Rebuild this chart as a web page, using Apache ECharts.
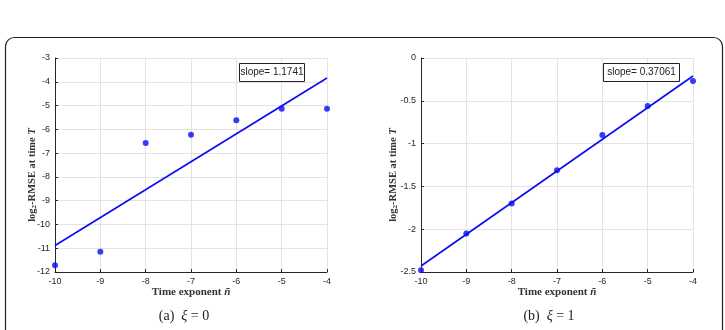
<!DOCTYPE html>
<html>
<head>
<meta charset="utf-8">
<script src="https://cdn.jsdelivr.net/npm/echarts@6/dist/echarts.min.js"></script>
<style>html,body{margin:0;padding:0;background:#fff;}#c{width:725px;height:330px;}</style>
</head>
<body>
<div id="c"></div>
<script>
// ---- data ----
const xExp = [-10, -9, -8, -7, -6, -5, -4];
const rmseA = [-11.72, -11.15, -6.58, -6.23, -5.62, -5.13, -5.13];   // xi = 0
const rmseB = [-2.48, -2.05, -1.70, -1.31, -0.90, -0.56, -0.27];     // xi = 1
const fitX = [-10, -4];
const fitA = [-10.885, -3.84];
const fitB = [-2.43, -0.21];
const slopeA = "1.1741";
const slopeB = "0.37061";
const xTicks = [-10, -9, -8, -7, -6, -5, -4];
const captionA = ["(a)  ", "ξ", " = 0"];
const captionB = ["(b)  ", "ξ", " = 1"];

const blue = '#0a0af5';
const axisCol = '#262626';
const gridCol = '#e3e3e3';

function pairs(xs, ys) { return xs.map((x, i) => [x, ys[i]]); }

function xAxisCfg(gi) {
  return {
    type: 'value', gridIndex: gi, min: -10, max: -4, interval: 1,
    axisLine: { show: true, onZero: false, lineStyle: { color: axisCol, width: 1 } },
    axisTick: { show: true, inside: true, length: 3, lineStyle: { color: axisCol } },
    axisLabel: { color: axisCol, fontFamily: 'Liberation Sans', fontSize: 9, margin: 5 },
    splitLine: { show: true, lineStyle: { color: gridCol, width: 1 } },
    name: '{t|Time exponent }{i|ñ}', nameLocation: 'middle', nameGap: 15, nameMoveOverlap: false,
    nameTextStyle: { rich: {
      t: { fontFamily: 'Liberation Serif', fontSize: 11, fontWeight: 'bold', color: '#333' },
      i: { fontFamily: 'Liberation Serif', fontSize: 11, fontWeight: 'bold', fontStyle: 'italic', color: '#333' } } }
  };
}
function yAxisCfg(gi, mn, mx, iv, gap) {
  return {
    type: 'value', gridIndex: gi, min: mn, max: mx, interval: iv,
    axisLine: { show: true, onZero: false, lineStyle: { color: axisCol, width: 1 } },
    axisTick: { show: true, inside: true, length: 3, lineStyle: { color: axisCol } },
    axisLabel: { color: axisCol, fontFamily: 'Liberation Sans', fontSize: 9, margin: 5 },
    splitLine: { show: true, lineStyle: { color: gridCol, width: 1 } },
    name: '{t|log}{s|2}{t|-RMSE at time }{i|T}', nameLocation: 'middle', nameGap: gap, nameRotate: 90,
    nameMoveOverlap: false,
    nameTextStyle: { padding: [0, 20, 0, 0], rich: {
      t: { fontFamily: 'Liberation Serif', fontSize: 10.5, fontWeight: 'bold', color: '#333' },
      s: { fontFamily: 'Liberation Serif', fontSize: 7, fontWeight: 'bold', color: '#333', verticalAlign: 'bottom', padding: [4, 0, 0, 0] },
      i: { fontFamily: 'Liberation Serif', fontSize: 10.5, fontWeight: 'bold', fontStyle: 'italic', color: '#333' } } }
  };
}
function caption(parts, cx) {
  return { type: 'text', x: cx, y: 316, z: 11,
    style: { text: '{r|' + parts[0] + '}{i|' + parts[1] + '}{r|' + parts[2] + '}', align: 'center', verticalAlign: 'middle',
      rich: { r: { font: '14px "Liberation Serif"', fill: '#222' }, i: { font: 'italic 14px "Liberation Serif"', fill: '#222' } } } };
}

const chart = echarts.init(document.getElementById('c'), null, { renderer: 'canvas' });
chart.setOption({
  animation: false,
  backgroundColor: '#fff',
  grid: [
    { left: 55, top: 58, width: 272, height: 214 },
    { left: 421, top: 58, width: 272, height: 214 }
  ],
  xAxis: [xAxisCfg(0), xAxisCfg(1)],
  yAxis: [yAxisCfg(0, -12, -3, 1, 17), yAxisCfg(1, -2.5, 0, 0.5, 22)],
  series: [
    { type: 'line', xAxisIndex: 0, yAxisIndex: 0, data: pairs(fitX, fitA), showSymbol: false, symbol: 'none',
      lineStyle: { color: blue, width: 1.6 }, z: 3 },
    { type: 'scatter', xAxisIndex: 0, yAxisIndex: 0, data: pairs(xExp, rmseA), symbol: 'circle', symbolSize: 6,
      itemStyle: { color: blue }, z: 4 },
    { type: 'line', xAxisIndex: 1, yAxisIndex: 1, data: pairs(fitX, fitB), showSymbol: false, symbol: 'none',
      lineStyle: { color: blue, width: 1.6 }, z: 3 },
    { type: 'scatter', xAxisIndex: 1, yAxisIndex: 1, data: pairs(xExp, rmseB), symbol: 'circle', symbolSize: 6,
      itemStyle: { color: blue }, z: 4 }
  ],
  graphic: [
    { type: 'rect', shape: { x: 5.5, y: 37.5, width: 717, height: 330, r: 9 },
      style: { fill: 'none', stroke: '#222', lineWidth: 1.2 }, z: 0 },
    { type: 'rect', shape: { x: 239.5, y: 63.5, width: 65, height: 18 },
      style: { fill: '#fff', stroke: '#222', lineWidth: 1 }, z: 10 },
    { type: 'text', x: 272, y: 72.5, z: 11,
      style: { text: 'slope= ' + slopeA, font: '10px "Liberation Sans"', fill: '#222', align: 'center', verticalAlign: 'middle' } },
    { type: 'rect', shape: { x: 603.5, y: 63.5, width: 76, height: 18 },
      style: { fill: '#fff', stroke: '#222', lineWidth: 1 }, z: 10 },
    { type: 'text', x: 641.5, y: 72.5, z: 11,
      style: { text: 'slope= ' + slopeB, font: '10px "Liberation Sans"', fill: '#222', align: 'center', verticalAlign: 'middle' } },
    caption(captionA, 184),
    caption(captionB, 549)
  ]
});
</script>
</body>
</html>
